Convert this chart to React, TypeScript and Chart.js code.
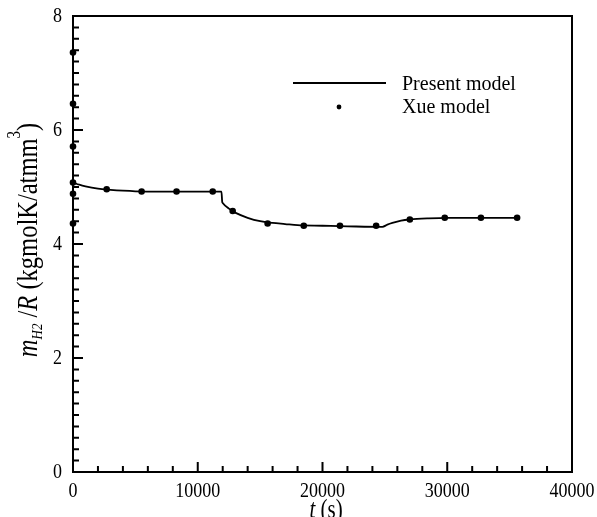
import React, { useEffect, useRef } from "react";
import { Chart, registerables } from "chart.js";

Chart.register(...registerables);

// Present model (continuous line)
const presentT = [0, 500, 1000, 2000, 3000, 4000, 5000, 7000, 9000, 11900, 11960, 12000, 12500, 13000, 14000, 15000, 16000, 17000, 18000, 20000, 22000, 24800, 25200, 25600, 26300, 27000, 28500, 30000, 33000, 35800];
const presentV = [5.08, 5.04, 5.01, 4.97, 4.95, 4.935, 4.925, 4.92, 4.92, 4.92, 4.74, 4.72, 4.62, 4.55, 4.46, 4.4, 4.37, 4.35, 4.33, 4.32, 4.31, 4.3, 4.34, 4.37, 4.41, 4.43, 4.45, 4.46, 4.46, 4.46];

// Xue model (markers)
const xueT = [0, 0, 0, 0, 0, 0, 2700, 5500, 8300, 11200, 12800, 15600, 18500, 21400, 24300, 27000, 29800, 32700, 35600];
const xueV = [7.36, 6.46, 5.71, 5.08, 4.88, 4.36, 4.96, 4.92, 4.92, 4.92, 4.58, 4.36, 4.32, 4.32, 4.32, 4.43, 4.46, 4.46, 4.46];

const xTicks = [0, 10000, 20000, 30000, 40000];
const yTicks = [0, 2, 4, 6, 8];

const SERIF = '"Liberation Serif", "Times New Roman", Times, serif';

const decorPlugin = {
  id: "decor",
  afterDraw(chart: any) {
    const ctx = chart.ctx as CanvasRenderingContext2D;
    const { left, right, top, bottom } = chart.chartArea;
    const xs = chart.scales.x;
    const ys = chart.scales.y;
    ctx.save();
    ctx.strokeStyle = "#000";
    ctx.fillStyle = "#000";

    // frame
    ctx.lineWidth = 2;
    ctx.strokeRect(left, top, right - left, bottom - top);

    // inward ticks
    ctx.lineWidth = 2;
    ctx.beginPath();
    for (let v = 0; v <= 40000; v += 2000) {
      const px = xs.getPixelForValue(v);
      const len = v % 10000 === 0 ? 10 : 6;
      ctx.moveTo(px, bottom);
      ctx.lineTo(px, bottom - len);
    }
    for (let i = 0; i <= 40; i++) {
      const v = i * 0.2;
      const py = ys.getPixelForValue(v);
      const len = i % 10 === 0 ? 10 : 6;
      ctx.moveTo(left, py);
      ctx.lineTo(left + len, py);
    }
    ctx.stroke();

    // tick labels
    ctx.font = `18px ${SERIF}`;
    ctx.textAlign = "right";
    ctx.textBaseline = "middle";
    for (const v of yTicks) {
      const py = ys.getPixelForValue(v);
      ctx.save();
      ctx.translate(left - 11, py);
      ctx.scale(1, 1.17);
      ctx.fillText(String(v), 0, 0);
      ctx.restore();
    }
    ctx.textAlign = "center";
    ctx.textBaseline = "top";
    for (const v of xTicks) {
      const px = xs.getPixelForValue(v);
      ctx.save();
      ctx.translate(px, bottom + 9);
      ctx.scale(1, 1.17);
      ctx.fillText(String(v), 0, 0);
      ctx.restore();
    }

    // x title
    ctx.save();
    ctx.translate(326, 518);
    ctx.scale(1, 1.25);
    ctx.textBaseline = "alphabetic";
    ctx.textAlign = "left";
    const tFont = `italic 21px ${SERIF}`;
    const sFont = `21px ${SERIF}`;
    ctx.font = tFont;
    const wT = ctx.measureText("t").width;
    ctx.font = sFont;
    const wS = ctx.measureText(" (s)").width;
    const x0 = -(wT + wS) / 2;
    ctx.font = tFont;
    ctx.fillText("t", x0, 0);
    ctx.font = sFont;
    ctx.fillText(" (s)", x0 + wT, 0);
    ctx.restore();

    // y title (rotated)
    const fs = 24.5;
    const parts = [
      { t: "m", f: `italic ${fs}px ${SERIF}`, dy: 0 },
      { t: "H2", f: `italic ${Math.round(fs * 0.55)}px ${SERIF}`, dy: 4 },
      { t: " /", f: `${fs}px ${SERIF}`, dy: 0 },
      { t: "R", f: `italic ${fs}px ${SERIF}`, dy: 0 },
      { t: " (kgmolK/atmm", f: `${fs}px ${SERIF}`, dy: 0 },
      { t: "3", f: `${Math.round(fs * 0.6)}px ${SERIF}`, dy: -14 },
      { t: ")", f: `${fs}px ${SERIF}`, dy: 0 },
    ];
    let total = 0;
    const widths: number[] = [];
    for (const p of parts) {
      ctx.font = p.f;
      const w = ctx.measureText(p.t).width;
      widths.push(w);
      total += w;
    }
    ctx.save();
    ctx.translate(37, 240);
    ctx.rotate(-Math.PI / 2);
    ctx.scale(1, 1.2);
    ctx.textAlign = "left";
    ctx.textBaseline = "alphabetic";
    let cx = -total / 2;
    parts.forEach((p, i) => {
      ctx.font = p.f;
      ctx.fillText(p.t, cx, p.dy);
      cx += widths[i];
    });
    ctx.restore();

    // legend
    ctx.lineWidth = 1.8;
    ctx.beginPath();
    ctx.moveTo(293, 83);
    ctx.lineTo(386, 83);
    ctx.stroke();
    ctx.beginPath();
    ctx.arc(339, 107, 2.4, 0, Math.PI * 2);
    ctx.fill();
    ctx.font = `20px ${SERIF}`;
    ctx.textAlign = "left";
    ctx.textBaseline = "alphabetic";
    ctx.fillText("Present model", 402, 90);
    ctx.fillText("Xue model", 402, 113);

    ctx.restore();
  },
};

export default function App() {
  const ref = useRef<HTMLCanvasElement>(null);
  useEffect(() => {
    if (!ref.current) return;
    const chart = new Chart(ref.current, {
      type: "line",
      data: {
        datasets: [
          {
            label: "Present model",
            data: presentT.map((t, i) => ({ x: t, y: presentV[i] })),
            borderColor: "#000",
            borderWidth: 1.8,
            pointRadius: 0,
            tension: 0,
            cubicInterpolationMode: "monotone",
            fill: false,
          },
          {
            label: "Xue model",
            data: xueT.map((t, i) => ({ x: t, y: xueV[i] })),
            showLine: false,
            pointRadius: 3.3,
            pointBackgroundColor: "#000",
            pointBorderColor: "#000",
            pointBorderWidth: 0,
            clip: false as any,
          },
        ],
      },
      options: {
        animation: false,
        responsive: true,
        maintainAspectRatio: false,
        layout: { padding: { top: 16, right: 25, left: 0, bottom: 0 } },
        plugins: { legend: { display: false }, tooltip: { enabled: false } },
        scales: {
          x: {
            type: "linear",
            min: 0,
            max: 40000,
            grid: { display: false, drawTicks: false },
            border: { display: false },
            ticks: { display: false, stepSize: 10000 },
            afterFit: (s: any) => {
              s.height = 45;
            },
          },
          y: {
            type: "linear",
            min: 0,
            max: 8,
            grid: { display: false, drawTicks: false },
            border: { display: false },
            ticks: { display: false, stepSize: 2 },
            afterFit: (s: any) => {
              s.width = 73;
            },
          },
        },
      },
      plugins: [decorPlugin],
    });
    return () => chart.destroy();
  }, []);
  return (
    <div style={{ position: "fixed", left: 0, top: 0, width: 597, height: 517, background: "#fff" }}>
      <canvas ref={ref} />
    </div>
  );
}
